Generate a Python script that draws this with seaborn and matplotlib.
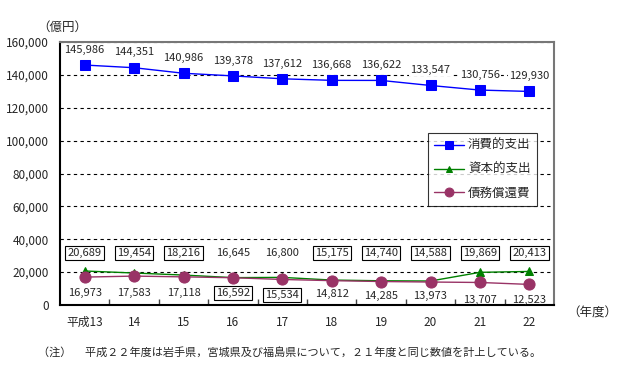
import matplotlib
matplotlib.use("Agg")
import matplotlib.pyplot as plt
import matplotlib.transforms as mtransforms
import seaborn as sns
import pandas as pd
import numpy as np

years = ["平成13", "14", "15", "16", "17", "18", "19", "20", "21", "22"]
consumption = [145986, 144351, 140986, 139378, 137612, 136668, 136622, 133547, 130756, 129930]
capital = [20689, 19454, 18216, 16645, 16800, 15175, 14740, 14588, 19869, 20413]
debt = [16973, 17583, 17118, 16592, 15534, 14812, 14285, 13973, 13707, 12523]
capital_boxed = [True, True, True, False, False, True, True, True, True, True]
debt_boxed = [False, False, False, True, True, False, False, False, False, False]
series_names = ["消費的支出", "資本的支出", "債務償還費"]

sns.set_theme(style="white")
plt.rcParams['font.family'] = ['Noto Sans CJK JP', 'DejaVu Sans']

fig = plt.figure(figsize=(6.4, 3.7), dpi=100)
ax = fig.add_axes([60/640, 1-305/370, (554-60)/640, (305-42)/370])

x = np.arange(len(years))
df = pd.DataFrame({
    "x": np.concatenate([x, x, x]),
    "value": consumption + capital + debt,
    "series": [series_names[0]]*10 + [series_names[1]]*10 + [series_names[2]]*10,
})
palette = {series_names[0]: "#0000FF", series_names[1]: "#008000", series_names[2]: "#993366"}
markers = {series_names[0]: "s", series_names[1]: "^", series_names[2]: "o"}
sizes_ms = {series_names[0]: 6.5, series_names[1]: 6, series_names[2]: 8}

for name in series_names:
    sub = df[df["series"] == name]
    sns.lineplot(data=sub, x="x", y="value", ax=ax, color=palette[name],
                 marker=markers[name], markersize=sizes_ms[name],
                 markeredgecolor=palette[name], linewidth=1.0, label=name,
                 zorder=3)

ax.set_xlim(-0.5, len(years) - 0.5)
ax.set_ylim(0, 160000)
ax.set_yticks(np.arange(0, 160001, 20000))
ax.set_yticklabels([f"{v:,}" for v in range(0, 160001, 20000)], fontsize=8.5)
ax.set_xticks(x)
ax.set_xticklabels(years, fontsize=8.5)
ax.set_xticks(np.arange(0.5, len(years) - 0.5, 1), minor=True)
ax.tick_params(axis="x", which="major", length=0, pad=8)
ax.tick_params(axis="x", which="minor", direction="in", length=4, bottom=True, color="#444444")
ax.tick_params(axis="y", length=0, pad=8)
ax.set_xlabel("")
ax.set_ylabel("")
for yv in range(20000, 160001, 20000):
    ax.axhline(yv, color="black", linestyle=(0, (3, 3)), linewidth=0.8, zorder=1)

ax.spines["left"].set_color("black")
ax.spines["bottom"].set_color("black")
ax.spines["left"].set_linewidth(1.5)
ax.spines["bottom"].set_linewidth(1.5)
ax.spines["right"].set_color("#777777")
ax.spines["top"].set_color("#777777")
ax.spines["right"].set_linewidth(1.5)
ax.spines["top"].set_linewidth(1.5)

# blue labels above points
wbox = dict(boxstyle="square,pad=0.1", fc="white", ec="none")
for xi, v in zip(x, consumption):
    ax.annotate(f"{v:,}", (xi, v), xytext=(0, 11), textcoords="offset points",
                ha="center", va="center", fontsize=8, bbox=wbox, zorder=4)

trans = mtransforms.blended_transform_factory(ax.transData, ax.transAxes)
box = dict(boxstyle="square,pad=0.2", fc="white", ec="black", lw=0.8)
for xi, v, b in zip(x, capital, capital_boxed):
    ax.text(xi, (305-253)/263, f"{v:,}", transform=trans, ha="center", va="center",
            fontsize=8, bbox=box if b else None, zorder=4)
debt_y = [293, 293, 293, 293, 295, 294, 296, 296, 300, 300]
for xi, v, b, yy in zip(x, debt, debt_boxed, debt_y):
    ax.text(xi, (305-yy)/263, f"{v:,}", transform=trans, ha="center", va="center",
            fontsize=8, bbox=box if b else None, zorder=4)

leg = ax.legend(loc="upper left", bbox_to_anchor=((428-60)/494, 1-(133-42)/263),
                borderaxespad=0,
                frameon=True, fancybox=False, fontsize=9, handlelength=2.4,
                borderpad=0.5, labelspacing=0.85, handletextpad=0.3,
                markerscale=0.8)
leg.get_frame().set_edgecolor("black")
leg.get_frame().set_linewidth(0.8)

fig.text(62/640, 1-27/370, "（億円）", ha="center", va="center", fontsize=9)
fig.text(592/640, 1-313/370, "（年度）", ha="center", va="center", fontsize=9)
fig.text(38/640, 1-352/370,
         "（注）　 平成２２年度は岩手県，宮城県及び福島県について，２１年度と同じ数値を計上している。",
         ha="left", va="center", fontsize=8)

fig.savefig("out.png", dpi=100)
